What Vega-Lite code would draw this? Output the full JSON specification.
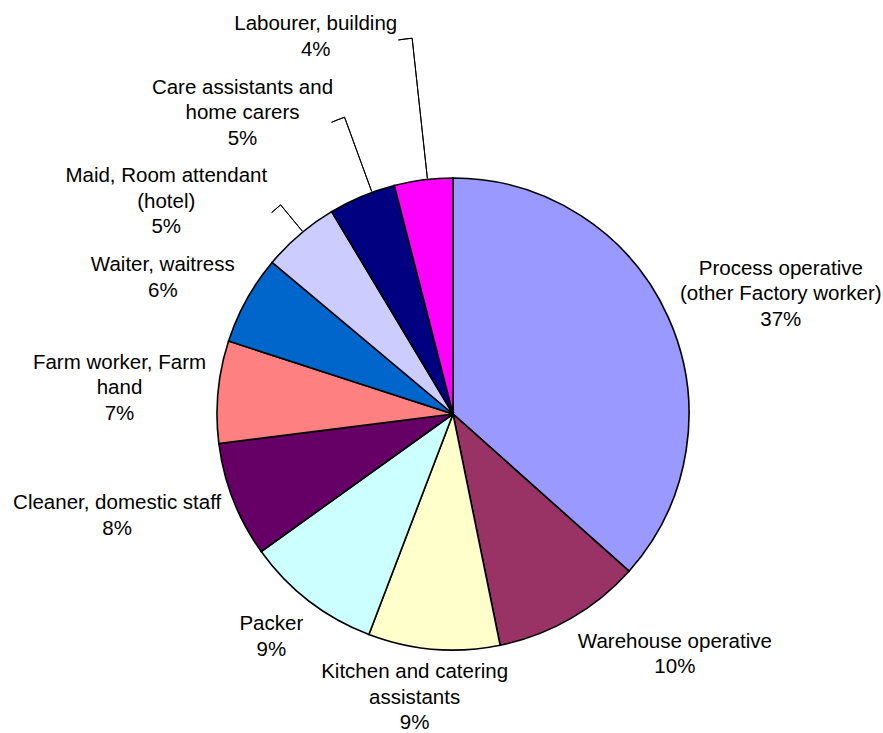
{
  "$schema": "https://vega.github.io/schema/vega-lite/v6.json",
  "width": 860,
  "height": 638,
  "autosize": "none",
  "padding": {"left": 23, "top": 95, "right": 0, "bottom": 0},
  "background": "white",
  "view": {"stroke": null},
  "data": {
    "values": [
      {"occupation": "Process operative", "label": "Process operative\n(other Factory worker)\n37%", "share": 36.6, "rank": 1},
      {"occupation": "Warehouse operative", "label": "Warehouse operative\n10%", "share": 10.2, "rank": 2},
      {"occupation": "Kitchen and catering assistants", "label": "Kitchen and catering\nassistants\n9%", "share": 9.0, "rank": 3},
      {"occupation": "Packer", "label": "Packer\n9%", "share": 9.3, "rank": 4},
      {"occupation": "Cleaner, domestic staff", "label": "Cleaner, domestic staff\n8%", "share": 7.9, "rank": 5},
      {"occupation": "Farm worker, Farm hand", "label": "Farm worker, Farm\nhand\n7%", "share": 7.0, "rank": 6},
      {"occupation": "Waiter, waitress", "label": "Waiter, waitress\n6%", "share": 6.1, "rank": 7},
      {"occupation": "Maid, Room attendant (hotel)", "label": "Maid, Room attendant\n(hotel)\n5%", "share": 5.3, "rank": 8},
      {"occupation": "Care assistants and home carers", "label": "Care assistants and\nhome carers\n5%", "share": 4.6, "rank": 9},
      {"occupation": "Labourer, building", "label": "Labourer, building\n4%", "share": 4.0, "rank": 10}
    ]
  },
  "encoding": {
    "theta": {"field": "share", "type": "quantitative", "stack": true},
    "order": {"field": "rank", "type": "quantitative"},
    "detail": {"field": "occupation", "type": "nominal"}
  },
  "layer": [
    {
      "mark": {"type": "arc", "outerRadius": 236, "stroke": "black", "strokeWidth": 1.6},
      "encoding": {
        "color": {
          "field": "occupation",
          "type": "nominal",
          "scale": {
            "domain": ["Process operative", "Warehouse operative", "Kitchen and catering assistants", "Packer", "Cleaner, domestic staff", "Farm worker, Farm hand", "Waiter, waitress", "Maid, Room attendant (hotel)", "Care assistants and home carers", "Labourer, building"],
            "range": ["#9999FF", "#993366", "#FFFFCC", "#CCFFFF", "#660066", "#FF8080", "#0066CC", "#CCCCFF", "#000080", "#FF00FF"]
          },
          "legend": null
        }
      }
    },
    {
      "transform": [{"stack": "share", "groupby": [], "sort": [{"field": "rank", "order": "ascending"}], "as": ["s0", "s1"]}],
      "mark": {"type": "arc", "innerRadius": 237, "outerRadius": 378, "thetaOffset": 0.1430, "theta2Offset": 0.1430, "fillOpacity": 0, "stroke": "black", "strokeWidth": 1},
      "encoding": {
        "theta": {"field": "s0", "type": "quantitative", "stack": null},
        "theta2": {"field": "s0"},
        "strokeOpacity": {"condition": {"test": "datum.occupation === 'Labourer, building'", "value": 1}, "value": 0}
      }
    },
    {
      "transform": [{"stack": "share", "groupby": [], "sort": [{"field": "rank", "order": "ascending"}], "as": ["s0", "s1"]}],
      "mark": {"type": "arc", "innerRadius": 378, "outerRadius": 378, "thetaOffset": 0.1064, "theta2Offset": 0.1430, "fillOpacity": 0, "stroke": "black", "strokeWidth": 1},
      "encoding": {
        "theta": {"field": "s0", "type": "quantitative", "stack": null},
        "theta2": {"field": "s0"},
        "strokeOpacity": {"condition": {"test": "datum.occupation === 'Labourer, building'", "value": 1}, "value": 0}
      }
    },
    {
      "transform": [{"stack": "share", "groupby": [], "sort": [{"field": "rank", "order": "ascending"}], "as": ["s0", "s1"]}],
      "mark": {"type": "arc", "innerRadius": 237, "outerRadius": 316, "thetaOffset": 0.1900, "theta2Offset": 0.1900, "fillOpacity": 0, "stroke": "black", "strokeWidth": 1},
      "encoding": {
        "theta": {"field": "s0", "type": "quantitative", "stack": null},
        "theta2": {"field": "s0"},
        "strokeOpacity": {"condition": {"test": "datum.occupation === 'Care assistants and home carers'", "value": 1}, "value": 0}
      }
    },
    {
      "transform": [{"stack": "share", "groupby": [], "sort": [{"field": "rank", "order": "ascending"}], "as": ["s0", "s1"]}],
      "mark": {"type": "arc", "innerRadius": 316, "outerRadius": 316, "thetaOffset": 0.1460, "theta2Offset": 0.1900, "fillOpacity": 0, "stroke": "black", "strokeWidth": 1},
      "encoding": {
        "theta": {"field": "s0", "type": "quantitative", "stack": null},
        "theta2": {"field": "s0"},
        "strokeOpacity": {"condition": {"test": "datum.occupation === 'Care assistants and home carers'", "value": 1}, "value": 0}
      }
    },
    {
      "transform": [{"stack": "share", "groupby": [], "sort": [{"field": "rank", "order": "ascending"}], "as": ["s0", "s1"]}],
      "mark": {"type": "arc", "innerRadius": 237, "outerRadius": 271, "thetaOffset": 0.1840, "theta2Offset": 0.1840, "fillOpacity": 0, "stroke": "black", "strokeWidth": 1},
      "encoding": {
        "theta": {"field": "s0", "type": "quantitative", "stack": null},
        "theta2": {"field": "s0"},
        "strokeOpacity": {"condition": {"test": "datum.occupation === 'Maid, Room attendant (hotel)'", "value": 1}, "value": 0}
      }
    },
    {
      "transform": [{"stack": "share", "groupby": [], "sort": [{"field": "rank", "order": "ascending"}], "as": ["s0", "s1"]}],
      "mark": {"type": "arc", "innerRadius": 271, "outerRadius": 271, "thetaOffset": 0.1403, "theta2Offset": 0.1840, "fillOpacity": 0, "stroke": "black", "strokeWidth": 1},
      "encoding": {
        "theta": {"field": "s0", "type": "quantitative", "stack": null},
        "theta2": {"field": "s0"},
        "strokeOpacity": {"condition": {"test": "datum.occupation === 'Maid, Room attendant (hotel)'", "value": 1}, "value": 0}
      }
    },
    {
      "mark": {"type": "text", "radius": 349.3, "dx": 9, "dy": -2.5},
      "encoding": {"text": {"condition": {"test": "datum.occupation === 'Process operative'", "field": "label", "type": "nominal"}, "value": ""}}
    },
    {
      "mark": {"type": "text", "radius": 326.9, "dx": 59, "dy": -55.75},
      "encoding": {"text": {"condition": {"test": "datum.occupation === 'Warehouse operative'", "field": "label", "type": "nominal"}, "value": ""}}
    },
    {
      "mark": {"type": "text", "radius": 286.5, "dx": -15, "dy": -27.5},
      "encoding": {"text": {"condition": {"test": "datum.occupation === 'Kitchen and catering assistants'", "field": "label", "type": "nominal"}, "value": ""}}
    },
    {
      "mark": {"type": "text", "radius": 287.8, "dx": -6, "dy": -17.75},
      "encoding": {"text": {"condition": {"test": "datum.occupation === 'Packer'", "field": "label", "type": "nominal"}, "value": ""}}
    },
    {
      "mark": {"type": "text", "radius": 351.1, "dx": -9, "dy": -38.75},
      "encoding": {"text": {"condition": {"test": "datum.occupation === 'Cleaner, domestic staff'", "field": "label", "type": "nominal"}, "value": ""}}
    },
    {
      "mark": {"type": "text", "radius": 335, "dx": 0, "dy": -19.5},
      "encoding": {"text": {"condition": {"test": "datum.occupation === 'Farm worker, Farm hand'", "field": "label", "type": "nominal"}, "value": ""}}
    },
    {
      "mark": {"type": "text", "radius": 320.3, "dx": -10, "dy": 6.25},
      "encoding": {"text": {"condition": {"test": "datum.occupation === 'Waiter, waitress'", "field": "label", "type": "nominal"}, "value": ""}}
    },
    {
      "mark": {"type": "text", "radius": 356.8, "dx": -55, "dy": 33.5},
      "encoding": {"text": {"condition": {"test": "datum.occupation === 'Maid, Room attendant (hotel)'", "field": "label", "type": "nominal"}, "value": ""}}
    },
    {
      "mark": {"type": "text", "radius": 367, "dx": -69, "dy": 12.5},
      "encoding": {"text": {"condition": {"test": "datum.occupation === 'Care assistants and home carers'", "field": "label", "type": "nominal"}, "value": ""}}
    },
    {
      "mark": {"type": "text", "radius": 401.1, "dx": -87, "dy": 8.25},
      "encoding": {"text": {"condition": {"test": "datum.occupation === 'Labourer, building'", "field": "label", "type": "nominal"}, "value": ""}}
    }
  ],
  "config": {
    "text": {"font": "Liberation Sans", "fontSize": 20.5, "lineBreak": "\n", "lineHeight": 25.5, "fill": "black", "align": "center", "baseline": "middle"}
  }
}
